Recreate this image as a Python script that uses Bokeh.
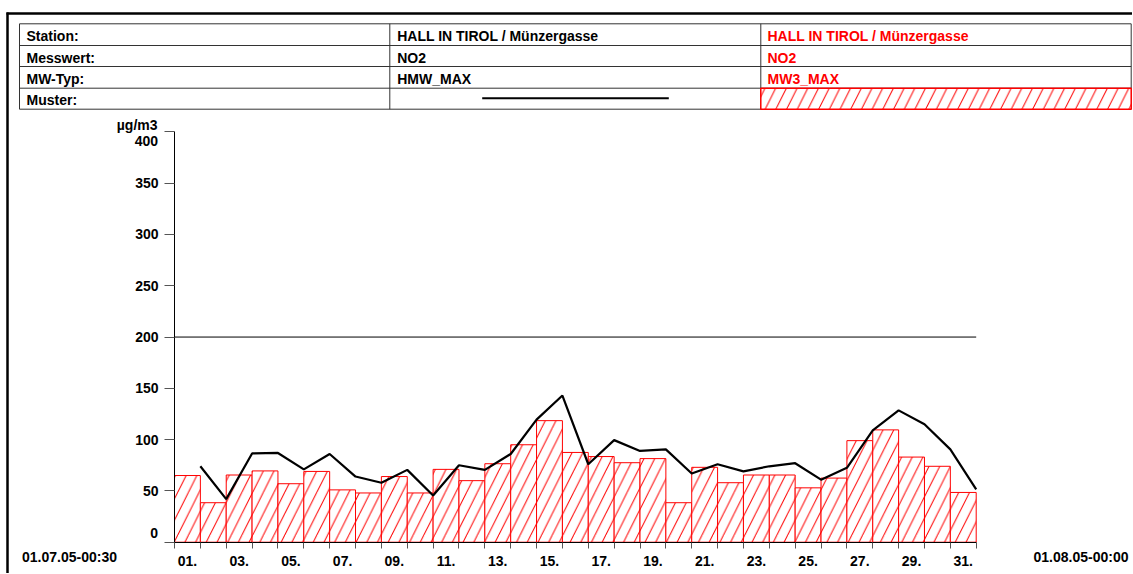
from bokeh.plotting import figure
from bokeh.models import Range1d, FixedTicker
from bokeh.embed import file_html
from bokeh.resources import INLINE
from bokeh.core.properties import value

# ---------------- data ----------------
days = list(range(1, 32))
mw3_max = [65, 38.5, 65.5, 69.5, 57, 69, 51, 48, 64, 48, 71, 60, 76.5, 95, 118.5,
           87.5, 83.5, 77.5, 81.5, 38.5, 73, 58, 65.5, 65.5, 53, 62.5, 99, 109.5, 83, 74, 48.5]
hmw_max = [74, 42, 86.5, 87, 71, 86, 64, 58, 70.5, 45.5, 75, 70.5, 86, 119.5, 143,
           76, 99.5, 89, 90.5, 67, 76, 69, 74, 77, 61, 72.5, 109, 128.5, 115, 90.5, 51.5]
limit_value = 200
y_ticks = [0, 50, 100, 150, 200, 250, 300, 350, 400]
x_tick_days = list(range(1, 32, 2))
x_tick_labels = ["%02d." % d for d in x_tick_days]
start_label = "01.07.05-00:30"
end_label = "01.08.05-00:00"
unit_label = "µg/m3"

row_labels = ["Station:", "Messwert:", "MW-Typ:", "Muster:"]
series1_info = ["HALL IN TIROL / Münzergasse", "NO2", "HMW_MAX"]
series2_info = ["HALL IN TIROL / Münzergasse", "NO2", "MW3_MAX"]

# ---------------- layout constants (pixels) ----------------
W, H = 1132, 573
AX_L, AX_R, AX_B, AX_T = 174.0, 975.7, 541.7, 131.4
FONT = value("Liberation Sans")
RED = "#ff0000"
n_days = len(days)
sx = (AX_R - AX_L) / n_days
sy = (AX_B - AX_T) / y_ticks[-1]

p = figure(width=W, height=H,
           x_range=Range1d(-AX_L / sx, (W - AX_L) / sx),
           y_range=Range1d(-(H - AX_B) / sy, AX_B / sy),
           min_border=0, outline_line_color=None, output_backend="svg",
           toolbar_location=None, background_fill_color="white", border_fill_color="white")
p.extra_x_ranges = {"px": Range1d(0, W)}
p.extra_y_ranges = {"py": Range1d(H, 0)}
p.xgrid.visible = False
p.ygrid.visible = False

PX = dict(x_range_name="px", y_range_name="py")
txt = dict(text_font=FONT, text_font_style="bold", text_font_size="14px", **PX)

# ---------------- frame & header table ----------------
p.segment(x0=[6], y0=[13], x1=[W], y1=[13], line_color="black", line_width=2.5, **PX)
p.segment(x0=[7], y0=[12], x1=[7], y1=[H], line_color="black", line_width=2.5, **PX)

row_y = [23.3, 45, 66, 87.7, 108.7]
col_x = [19, 389.3, 760.3, 1130.7]
p.segment(x0=[col_x[0]] * 5, y0=row_y, x1=[col_x[-1]] * 5, y1=row_y,
          line_color="#333333", line_width=1, **PX)
p.segment(x0=col_x, y0=[row_y[0]] * 4, x1=col_x, y1=[row_y[-1]] * 4,
          line_color="#333333", line_width=1, **PX)

mid = [r + 12 for r in row_y[:4]]
p.text(x=[26] * 4, y=mid, text=row_labels, text_baseline="middle", text_color="black", **txt)
p.text(x=[396.7] * 3, y=mid[:3], text=series1_info, text_baseline="middle", text_color="black", **txt)
p.text(x=[767] * 3, y=mid[:3], text=series2_info, text_baseline="middle", text_color=RED, **txt)

# legend samples
p.segment(x0=[481.7], y0=[97.7], x1=[668.3], y1=[97.7], line_color="black", line_width=2, **PX)
p.quad(left=[col_x[2]], right=[col_x[3]], top=[row_y[3]], bottom=[row_y[4]],
       fill_color="white", line_color=RED, line_width=1.5,
       hatch_pattern="/", hatch_color=RED, hatch_scale=21.4, hatch_weight=1, **PX)

# ---------------- chart (data coordinates) ----------------
lefts = [d - 1 for d in days]
p.quad(left=lefts, right=days, bottom=0, top=mw3_max,
       fill_color="white", line_color=RED, line_width=1,
       hatch_pattern="/", hatch_color=RED, hatch_scale=21.4, hatch_weight=1)

p.segment(x0=[0], y0=[limit_value], x1=[n_days], y1=[limit_value], line_color="black", line_width=1)

p.line(x=days, y=hmw_max, line_color="black", line_width=2.2)

# axes placed at the data origin
xa = p.xaxis[0]
xa.fixed_location = 0
xa.bounds = (0, n_days)
xa.ticker = FixedTicker(ticks=[d - 0.5 for d in x_tick_days], minor_ticks=list(range(0, n_days + 1)))
xa.major_label_overrides = {d - 0.5: lab for d, lab in zip(x_tick_days, x_tick_labels)}
xa.major_tick_out = 0
xa.major_tick_in = 0
xa.minor_tick_out = 6
xa.minor_tick_in = 0
xa.minor_tick_line_color = "#555555"
xa.axis_line_color = "black"
xa.major_label_standoff = 8
xa.major_label_text_font = "Liberation Sans"
xa.major_label_text_font_style = "bold"
xa.major_label_text_font_size = "14px"
xa.major_label_text_color = "black"

ya = p.yaxis[0]
ya.fixed_location = 0
ya.bounds = (0, y_ticks[-1])
ya.ticker = FixedTicker(ticks=y_ticks, minor_ticks=[])
ya.major_label_overrides = {y_ticks[0]: "", y_ticks[-1]: ""}
ya.major_tick_out = 10
ya.major_tick_in = 0
ya.minor_tick_out = 0
ya.minor_tick_in = 0
ya.major_tick_line_color = "#555555"
ya.axis_line_color = "black"
ya.major_label_standoff = 6
ya.major_label_text_font = "Liberation Sans"
ya.major_label_text_font_style = "bold"
ya.major_label_text_font_size = "14px"
ya.major_label_text_color = "black"

# texts outside the value area (pixel positions)
p.text(x=[157], y=[124], text=[unit_label], text_align="right", text_baseline="middle",
       text_color="black", **txt)
p.text(x=[157.5, 157.5], y=[140, 532.5], text=[str(y_ticks[-1]), str(y_ticks[0])],
       text_align="right", text_baseline="middle", text_color="black", **txt)
p.text(x=[69, 1080.5], y=[556.7, 556.7], text=[start_label, end_label],
       text_align="center", text_baseline="middle", text_color="black", **txt)

open("out.html", "w").write(file_html(p, INLINE))
